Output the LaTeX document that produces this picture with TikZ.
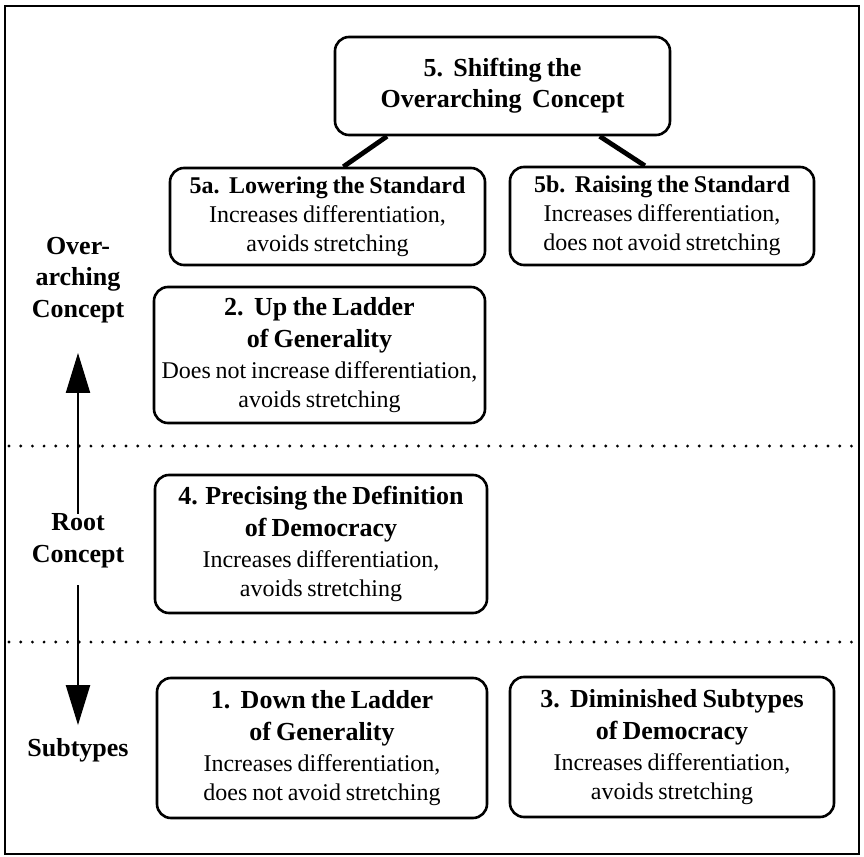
\documentclass[tikz,border=0pt]{standalone}
\usepackage{fontspec}
\setmainfont{Liberation Serif}[WordSpace=0.8]
\usetikzlibrary{arrows.meta}
\usetikzlibrary{calc}

\newcommand{\boxtitle}{\fontsize{13}{16}\selectfont\bfseries}
\newcommand{\halftitle}{\fontsize{12}{15}\selectfont\bfseries}

\begin{document}
\begin{tikzpicture}[x=0.5pt,y=-0.5pt,
  concept/.style={draw,line width=1.3pt,rounded corners=7pt,align=center,inner sep=0pt,
    font=\fontsize{12}{14.5}\selectfont},
  level/.style={align=center,font=\fontsize{13}{15.75}\selectfont\bfseries},
  link/.style={line width=2.4pt},
  ladder/.style={line width=1.1pt,-{Triangle[length=20pt,width=12pt]}},
  divider/.style={line width=1.6pt,line cap=round,dash pattern=on 0pt off 5.85pt}]
  \useasboundingbox (0,0) rectangle (864,857);

  %frame
  \draw[line width=1.3pt] (5,6) rectangle (859,854);

  %boxes
  \node[concept,minimum width=167.5pt,minimum height=49pt,at={(502.5,86)}] (shift)
    {{\boxtitle 5.\ \ Shifting the}\\[1pt]{\boxtitle Overarching\ \ Concept}};
  \node[concept,minimum width=157.5pt,minimum height=48.5pt,at={(327.5,216.5)}] (lower)
    {{\halftitle 5a.\ \ Lowering the Standard}\\Increases differentiation,\\avoids stretching};
  \node[concept,minimum width=152pt,minimum height=49pt,at={(662,216)}] (raise)
    {{\halftitle 5b.\ \ Raising the Standard}\\Increases differentiation,\\does not avoid stretching};
  \node[concept,minimum width=165.5pt,minimum height=68pt,at={(319.5,355)}] (up)
    {{\boxtitle 2.\ \ Up the Ladder}\\[1.5pt]{\boxtitle of Generality}\\[1pt]Does not increase differentiation,\\avoids stretching};
  \node[concept,minimum width=166pt,minimum height=69pt,at={(321,544)}] (precise)
    {{\boxtitle 4. Precising the Definition}\\[1.5pt]{\boxtitle of Democracy}\\[1pt]Increases differentiation,\\avoids stretching};
  \node[concept,minimum width=165pt,minimum height=70pt,at={(322,748)}] (down)
    {{\boxtitle 1.\ \ Down the Ladder}\\[1.5pt]{\boxtitle of Generality}\\[1pt]Increases differentiation,\\does not avoid stretching};
  \node[concept,minimum width=162pt,minimum height=70pt,at={(672,747)}] (diminish)
    {{\boxtitle 3.\ \ Diminished Subtypes}\\[1.5pt]{\boxtitle of Democracy}\\[1pt]Increases differentiation,\\avoids stretching};

  %connectors
  \draw[link] ($(shift.south west)!0.158!(shift.south east)$) -- ($(lower.north west)!0.55!(lower.north east)$);
  \draw[link] ($(shift.south west)!0.788!(shift.south east)$) -- ($(raise.north west)!0.444!(raise.north east)$);

  %level labels
  \node[level,at={(78,280)}] (over) {Over-\\arching\\Concept};
  \node[level,at={(78,541)}] (root) {Root\\Concept};
  \node[level,at={(78,750)}] (sub) {Subtypes};

  %dividers
  \draw[divider] (9,446) -- (855,446);
  \draw[divider] (9,642) -- (855,642);

  %ladder arrows
  \draw[ladder,shorten <=-3.5pt,shorten >=11.5pt] (root.north) -- (over.south);
  \draw[ladder,shorten <=5pt,shorten >=3pt] (root.south) -- (sub.north);
\end{tikzpicture}
\end{document}
